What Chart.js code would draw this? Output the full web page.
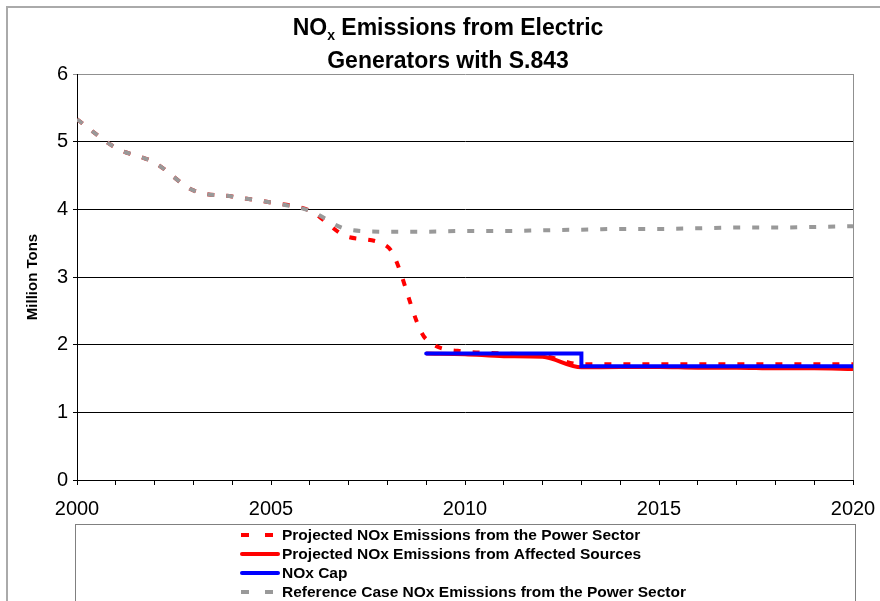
<!DOCTYPE html>
<html>
<head>
<meta charset="utf-8">
<title>NOx Emissions from Electric Generators with S.843</title>
<script src="https://cdn.jsdelivr.net/npm/chart.js@4"></script>
<style>
body { margin: 0; background: #fff; }
#wrap { width: 880px; height: 601px; position: relative; }
</style>
</head>
<body>
<div id="wrap"><canvas id="myChart"></canvas></div>
<script>
// values, million tons
const years = [2000, 2001, 2002, 2003, 2004, 2005, 2006, 2007, 2008, 2009, 2010,
               2011, 2012, 2013, 2014, 2015, 2016, 2017, 2018, 2019, 2020];
const xTickLabels = [2000, 2005, 2010, 2015, 2020];
const yTickLabels = [0, 1, 2, 3, 4, 5, 6];

const powerSector = [5.33, 4.91, 4.69, 4.28, 4.19, 4.10, 3.98, 3.59, 3.45, 2.08, 1.90,
                     1.87, 1.84, 1.71, 1.71, 1.71, 1.71, 1.71, 1.71, 1.71, 1.71];
const affectedSources = [null, null, null, null, null, null, null, null, null, 1.87, 1.86,
                         1.83, 1.82, 1.665, 1.67, 1.67, 1.66, 1.66, 1.65, 1.65, 1.64];
const noxCap = [null, null, null, null, null, null, null, null, null, 1.87, 1.87,
                1.87, 1.87, 1.68, 1.68, 1.68, 1.68, 1.68, 1.68, 1.68, 1.68];
const referenceCase = [5.33, 4.91, 4.69, 4.28, 4.19, 4.10, 3.98, 3.70, 3.67, 3.67, 3.68,
                       3.68, 3.69, 3.70, 3.71, 3.71, 3.72, 3.73, 3.73, 3.74, 3.75];

const seriesNames = [
  'Projected NOx Emissions from the Power Sector',
  'Projected NOx Emissions from Affected Sources',
  'NOx Cap',
  'Reference Case NOx Emissions from the Power Sector'
];

const FONT = '"Liberation Sans", Arial, sans-serif';

function toPoints(values) {
  return years.map((yr, i) => ({x: yr, y: values[i]}));
}

// title, legend box, frame
const extras = {
  id: 'extras',
  afterDraw(chart) {
    const ctx = chart.ctx;
    const a = chart.chartArea;
    ctx.save();

    // plot area right edge
    ctx.strokeStyle = '#909090';
    ctx.lineWidth = 1;
    ctx.beginPath();
    ctx.moveTo(Math.round(a.right) + 0.5, a.top);
    ctx.lineTo(Math.round(a.right) + 0.5, a.bottom);
    ctx.stroke();

    // outer frame
    ctx.strokeStyle = '#aaaaaa';
    ctx.lineWidth = 2;
    ctx.strokeRect(7, 7, 900, 700);

    // title with subscript x
    ctx.fillStyle = '#000';
    ctx.textBaseline = 'alphabetic';
    ctx.textAlign = 'left';
    const big = 'bold 23px ' + FONT;
    const small = 'bold 14px ' + FONT;
    const cx = 448;
    ctx.font = big;
    const wNO = ctx.measureText('NO').width;
    const rest = ' Emissions from Electric';
    const wRest = ctx.measureText(rest).width;
    ctx.font = small;
    const wx = ctx.measureText('x').width;
    let x = cx - (wNO + wx + wRest) / 2;
    ctx.font = big;
    ctx.fillText('NO', x, 35);
    x += wNO;
    ctx.font = small;
    ctx.fillText('x', x, 40);
    x += wx;
    ctx.font = big;
    ctx.fillText(rest, x, 35);
    ctx.textAlign = 'center';
    ctx.fillText('Generators with S.843', cx, 68);

    // legend
    ctx.strokeStyle = '#808080';
    ctx.lineWidth = 1;
    ctx.strokeRect(75.5, 524.5, 780, 120);
    ctx.textAlign = 'left';
    ctx.textBaseline = 'middle';
    ctx.font = 'bold 15.5px ' + FONT;
    const byName = {};
    chart.data.datasets.forEach(ds => { byName[ds.label] = ds; });
    seriesNames.forEach((name, i) => {
      const ds = byName[name];
      const y = Math.round(535 + i * 18.9);
      ctx.strokeStyle = ds.borderColor;
      ctx.lineWidth = 4;
      ctx.lineCap = ds.borderDash ? 'butt' : 'round';
      ctx.setLineDash(ds.borderDash ? [8, 16] : []);
      ctx.beginPath();
      ctx.moveTo(ds.borderDash ? 241 : 242, y);
      ctx.lineTo(ds.borderDash ? 281 : 278, y);
      ctx.stroke();
      ctx.setLineDash([]);
      ctx.fillStyle = '#000';
      ctx.fillText(name, 282, y + 1);
    });

    ctx.restore();
  }
};

const myChart = document.getElementById('myChart');

// first dataset is drawn on top
let lineChart = new Chart(myChart, {
  type: 'line',
  data: {
    datasets: [
      {
        label: seriesNames[3],
        data: toPoints(referenceCase),
        borderColor: '#999999',
        borderWidth: 4,
        borderDash: [7, 12],
        cubicInterpolationMode: 'monotone',
        pointRadius: 0
      },
      {
        label: seriesNames[2],
        data: toPoints(noxCap),
        borderColor: '#0000ff',
        borderWidth: 4,
        stepped: true,
        borderCapStyle: 'round',
        pointRadius: 0
      },
      {
        label: seriesNames[1],
        data: toPoints(affectedSources),
        borderColor: '#ff0000',
        borderWidth: 4,
        cubicInterpolationMode: 'monotone',
        pointRadius: 0
      },
      {
        label: seriesNames[0],
        data: toPoints(powerSector),
        borderColor: '#ff0000',
        borderWidth: 4,
        borderDash: [7, 12],
        cubicInterpolationMode: 'monotone',
        pointRadius: 0
      }
    ]
  },
  options: {
    responsive: true,
    maintainAspectRatio: false,
    animation: false,
    layout: {
      padding: {top: 74, right: 27, bottom: 81, left: 0}
    },
    plugins: {
      legend: {display: false},
      title: {display: false},
      tooltip: {enabled: false}
    },
    scales: {
      x: {
        type: 'linear',
        min: 2000,
        max: 2020,
        afterFit: s => {
          s.height = 40;
          s.paddingLeft = 0;
          s.paddingRight = 0;
        },
        ticks: {
          stepSize: 1,
          autoSkip: false,
          maxRotation: 0,
          padding: 12,
          color: '#000',
          font: {family: FONT, size: 20},
          callback: v => xTickLabels.includes(v) ? String(v) : ''
        },
        grid: {
          drawOnChartArea: false,
          drawTicks: true,
          tickLength: 5,
          color: '#000'
        },
        border: {display: true, color: '#000', width: 1}
      },
      y: {
        min: 0,
        max: 6,
        afterFit: s => { s.width = 77; },
        ticks: {
          stepSize: 1,
          padding: 5,
          color: '#000',
          font: {family: FONT, size: 20},
          callback: v => yTickLabels.includes(v) ? String(v) : ''
        },
        grid: {
          tickLength: 4,
          lineWidth: 1,
          color: c => c.tick && c.tick.value === 6 ? '#909090' : '#000'
        },
        border: {display: true, color: '#000', width: 1},
        title: {
          display: true,
          text: 'Million Tons',
          color: '#000',
          font: {family: FONT, size: 15, weight: 'bold'},
          padding: {top: 24, bottom: 0}
        }
      }
    }
  },
  plugins: [extras]
});
</script>
</body>
</html>
